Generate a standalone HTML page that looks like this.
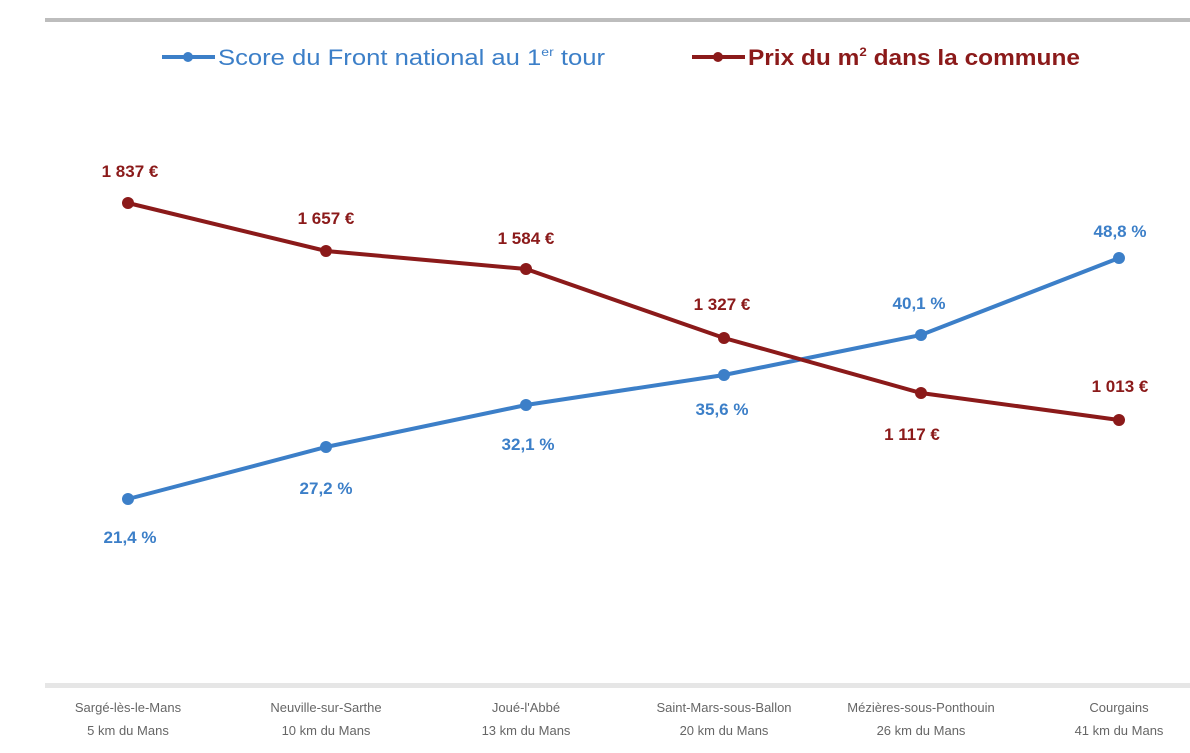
<!DOCTYPE html>
<html><head><meta charset="utf-8"><style>
body{margin:0;background:#fff;}
svg{display:block;font-family:"Liberation Sans",sans-serif;}
</style></head><body>
<svg width="1190" height="753" viewBox="0 0 1190 753">
<rect x="45" y="18" width="1145" height="4" fill="#bdbdbd"/>
<rect x="45" y="683" width="1145" height="5" fill="#e6e6e6"/>
<g font-size="22">
<line x1="162" y1="57" x2="215" y2="57" stroke="#3c7fc8" stroke-width="4"/>
<circle cx="188" cy="57" r="5" fill="#3c7fc8"/>
<text x="218" y="65" fill="#3c7fc8" textLength="387" lengthAdjust="spacingAndGlyphs">Score du Front national au 1<tspan font-size="12" dy="-9">er</tspan><tspan dy="9"> tour</tspan></text>
<line x1="692" y1="57" x2="745" y2="57" stroke="#8b1a1a" stroke-width="4"/>
<circle cx="718" cy="57" r="5" fill="#8b1a1a"/>
<text x="748" y="65" fill="#8b1a1a" font-weight="bold" textLength="332" lengthAdjust="spacingAndGlyphs">Prix du m<tspan font-size="12" dy="-9">2</tspan><tspan dy="9"> dans la commune</tspan></text>
</g>
<polyline points="128,499 326,447 526,405 724,375 921,335 1119,258" fill="none" stroke="#3c7fc8" stroke-width="4"/>
<polyline points="128,203 326,251 526,269 724,338 921,393 1119,420" fill="none" stroke="#8b1a1a" stroke-width="4"/>
<g fill="#3c7fc8"><circle cx="128" cy="499" r="6"/><circle cx="326" cy="447" r="6"/><circle cx="526" cy="405" r="6"/><circle cx="724" cy="375" r="6"/><circle cx="921" cy="335" r="6"/><circle cx="1119" cy="258" r="6"/></g>
<g fill="#8b1a1a"><circle cx="128" cy="203" r="6"/><circle cx="326" cy="251" r="6"/><circle cx="526" cy="269" r="6"/><circle cx="724" cy="338" r="6"/><circle cx="921" cy="393" r="6"/><circle cx="1119" cy="420" r="6"/></g>
<g font-size="17" font-weight="bold" text-anchor="middle" fill="#8b1a1a">
<text x="130" y="177">1 837 €</text><text x="326" y="224">1 657 €</text><text x="526" y="244">1 584 €</text><text x="722" y="310">1 327 €</text><text x="912" y="440">1 117 €</text><text x="1120" y="392">1 013 €</text>
</g>
<g font-size="17" font-weight="bold" text-anchor="middle" fill="#3c7fc8">
<text x="130" y="543">21,4 %</text><text x="326" y="494">27,2 %</text><text x="528" y="450">32,1 %</text><text x="722" y="415">35,6 %</text><text x="919" y="309">40,1 %</text><text x="1120" y="237">48,8 %</text>
</g>
<g font-size="13" text-anchor="middle" fill="#666">
<text x="128" y="712">Sargé-lès-le-Mans</text><text x="128" y="735">5 km du Mans</text>
<text x="326" y="712">Neuville-sur-Sarthe</text><text x="326" y="735">10 km du Mans</text>
<text x="526" y="712">Joué-l'Abbé</text><text x="526" y="735">13 km du Mans</text>
<text x="724" y="712">Saint-Mars-sous-Ballon</text><text x="724" y="735">20 km du Mans</text>
<text x="921" y="712">Mézières-sous-Ponthouin</text><text x="921" y="735">26 km du Mans</text>
<text x="1119" y="712">Courgains</text><text x="1119" y="735">41 km du Mans</text>
</g>
</svg>
</body></html>
